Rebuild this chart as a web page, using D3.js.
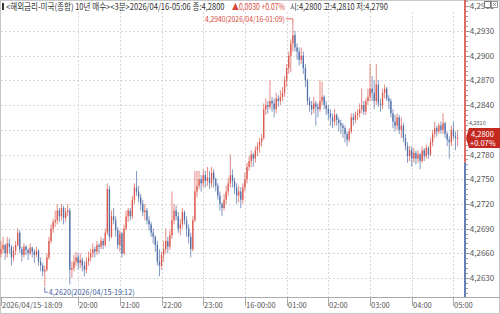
<!DOCTYPE html>
<html><head><meta charset="utf-8">
<script src="https://cdn.jsdelivr.net/npm/d3@7"></script>
<style>
html,body{margin:0;padding:0;background:#fff;}
svg{display:block;}
text{font-family:"Noto Sans CJK KR","Noto Sans",sans-serif;}
</style></head>
<body><svg id="c" width="500" height="314"></svg>
<script>
const openV = [
4.2660,4.2665,4.2670,4.2660,4.2672,4.2668,4.2655,4.2663,4.2670,4.2685,
4.2665,4.2658,4.2668,4.2664,4.2660,4.2667,4.2662,4.2658,4.2663,4.2650,
4.2645,4.2638,4.2640,4.2655,4.2675,4.2690,4.2698,4.2700,4.2712,4.2705,
4.2715,4.2703,4.2710,4.2712,4.2640,4.2642,4.2650,4.2655,4.2648,4.2652,
4.2645,4.2640,4.2650,4.2655,4.2660,4.2665,4.2662,4.2670,4.2668,4.2675,
4.2670,4.2685,4.2738,4.2680,4.2705,4.2700,4.2688,4.2670,4.2684,4.2660,
4.2690,4.2705,4.2712,4.2705,4.2725,4.2740,4.2735,4.2728,4.2720,4.2710,
4.2712,4.2700,4.2695,4.2685,4.2680,4.2670,4.2650,4.2645,4.2658,4.2665,
4.2675,4.2668,4.2682,4.2700,4.2712,4.2705,4.2690,4.2695,4.2710,4.2700,
4.2690,4.2680,4.2665,4.2700,4.2735,4.2742,4.2750,4.2745,4.2755,4.2748,
4.2752,4.2745,4.2758,4.2750,4.2742,4.2730,4.2720,4.2715,4.2725,4.2735,
4.2745,4.2755,4.2748,4.2740,4.2730,4.2735,4.2725,4.2740,4.2750,4.2765,
4.2772,4.2780,4.2775,4.2785,4.2790,4.2795,4.2800,4.2835,4.2840,4.2838,
4.2845,4.2842,4.2835,4.2848,4.2845,4.2850,4.2855,4.2870,4.2885,4.2900,
4.2915,4.2925,4.2910,4.2905,4.2895,4.2900,4.2885,4.2870,4.2845,4.2840,
4.2835,4.2842,4.2838,4.2835,4.2845,4.2850,4.2840,4.2835,4.2830,4.2825,
4.2820,4.2828,4.2822,4.2818,4.2815,4.2812,4.2805,4.2798,4.2808,4.2825,
4.2822,4.2828,4.2830,4.2835,4.2840,4.2832,4.2845,4.2850,4.2860,4.2855,
4.2845,4.2865,4.2842,4.2840,4.2855,4.2860,4.2848,4.2845,4.2830,4.2820,
4.2815,4.2825,4.2810,4.2815,4.2800,4.2790,4.2778,4.2785,4.2775,4.2782,
4.2775,4.2780,4.2772,4.2785,4.2778,4.2788,4.2780,4.2795,4.2805,4.2812,
4.2808,4.2815,4.2810,4.2818,4.2805,4.2798,4.2795,4.2810,4.2802,4.2800];
const highV = [
4.2675,4.2680,4.2672,4.2680,4.2678,4.2670,4.2668,4.2675,4.2690,4.2688,
4.2668,4.2672,4.2670,4.2666,4.2672,4.2668,4.2665,4.2668,4.2665,4.2655,
4.2648,4.2645,4.2660,4.2680,4.2695,4.2702,4.2712,4.2720,4.2715,4.2720,
4.2718,4.2715,4.2720,4.2715,4.2650,4.2658,4.2662,4.2660,4.2660,4.2655,
4.2650,4.2655,4.2662,4.2665,4.2672,4.2668,4.2675,4.2672,4.2680,4.2678,
4.2690,4.2745,4.2742,4.2712,4.2715,4.2705,4.2692,4.2688,4.2686,4.2695,
4.2712,4.2715,4.2715,4.2730,4.2745,4.2760,4.2742,4.2732,4.2725,4.2720,
4.2715,4.2705,4.2698,4.2690,4.2682,4.2675,4.2665,4.2662,4.2675,4.2690,
4.2680,4.2688,4.2735,4.2720,4.2718,4.2710,4.2702,4.2715,4.2712,4.2705,
4.2695,4.2685,4.2705,4.2760,4.2760,4.2760,4.2755,4.2762,4.2760,4.2765,
4.2760,4.2765,4.2762,4.2752,4.2745,4.2735,4.2722,4.2732,4.2742,4.2752,
4.2780,4.2762,4.2752,4.2745,4.2742,4.2740,4.2745,4.2758,4.2770,4.2778,
4.2785,4.2782,4.2790,4.2795,4.2800,4.2805,4.2842,4.2848,4.2845,4.2870,
4.2850,4.2848,4.2855,4.2852,4.2858,4.2862,4.2875,4.2890,4.2905,4.2920,
4.2940,4.2930,4.2915,4.2910,4.2910,4.2905,4.2890,4.2872,4.2850,4.2845,
4.2850,4.2845,4.2842,4.2870,4.2868,4.2852,4.2845,4.2840,4.2835,4.2830,
4.2835,4.2830,4.2825,4.2822,4.2818,4.2815,4.2808,4.2812,4.2830,4.2830,
4.2832,4.2835,4.2842,4.2860,4.2845,4.2848,4.2860,4.2890,4.2875,4.2870,
4.2890,4.2870,4.2848,4.2860,4.2865,4.2862,4.2852,4.2848,4.2835,4.2828,
4.2830,4.2828,4.2825,4.2818,4.2805,4.2795,4.2790,4.2790,4.2788,4.2785,
4.2785,4.2782,4.2790,4.2788,4.2792,4.2790,4.2800,4.2810,4.2820,4.2815,
4.2818,4.2820,4.2830,4.2820,4.2808,4.2802,4.2815,4.2820,4.2808,4.2810];
const lowV = [
4.2655,4.2660,4.2652,4.2655,4.2660,4.2645,4.2650,4.2658,4.2668,4.2660,
4.2650,4.2655,4.2658,4.2652,4.2658,4.2655,4.2648,4.2655,4.2645,4.2638,
4.2632,4.2620,4.2638,4.2652,4.2672,4.2685,4.2692,4.2695,4.2698,4.2700,
4.2695,4.2698,4.2705,4.2622,4.2630,4.2638,4.2645,4.2640,4.2642,4.2638,
4.2632,4.2636,4.2645,4.2650,4.2655,4.2655,4.2658,4.2660,4.2665,4.2665,
4.2668,4.2682,4.2675,4.2678,4.2695,4.2680,4.2665,4.2662,4.2655,4.2658,
4.2688,4.2698,4.2700,4.2702,4.2720,4.2730,4.2722,4.2712,4.2705,4.2700,
4.2695,4.2688,4.2680,4.2672,4.2662,4.2645,4.2632,4.2640,4.2650,4.2660,
4.2660,4.2664,4.2678,4.2695,4.2700,4.2685,4.2682,4.2690,4.2695,4.2680,
4.2672,4.2655,4.2662,4.2698,4.2728,4.2738,4.2735,4.2740,4.2740,4.2742,
4.2738,4.2740,4.2740,4.2735,4.2725,4.2712,4.2705,4.2712,4.2720,4.2730,
4.2740,4.2740,4.2732,4.2720,4.2722,4.2715,4.2720,4.2735,4.2745,4.2760,
4.2765,4.2765,4.2770,4.2778,4.2782,4.2790,4.2798,4.2828,4.2830,4.2835,
4.2832,4.2825,4.2830,4.2838,4.2840,4.2845,4.2850,4.2862,4.2878,4.2880,
4.2905,4.2905,4.2895,4.2888,4.2890,4.2878,4.2862,4.2840,4.2832,4.2828,
4.2830,4.2815,4.2825,4.2832,4.2840,4.2835,4.2828,4.2822,4.2815,4.2812,
4.2815,4.2815,4.2808,4.2805,4.2800,4.2795,4.2790,4.2795,4.2805,4.2815,
4.2818,4.2822,4.2825,4.2830,4.2828,4.2828,4.2840,4.2845,4.2845,4.2835,
4.2840,4.2838,4.2832,4.2835,4.2848,4.2845,4.2835,4.2825,4.2812,4.2808,
4.2810,4.2805,4.2800,4.2795,4.2785,4.2770,4.2772,4.2765,4.2770,4.2768,
4.2770,4.2762,4.2770,4.2772,4.2775,4.2775,4.2778,4.2790,4.2800,4.2802,
4.2805,4.2805,4.2805,4.2800,4.2790,4.2775,4.2790,4.2798,4.2785,4.2790];
const closeV = [
4.2665,4.2670,4.2660,4.2672,4.2668,4.2655,4.2663,4.2670,4.2685,4.2665,
4.2658,4.2668,4.2664,4.2660,4.2667,4.2662,4.2658,4.2663,4.2650,4.2645,
4.2638,4.2640,4.2655,4.2675,4.2690,4.2698,4.2700,4.2712,4.2705,4.2715,
4.2703,4.2710,4.2712,4.2640,4.2642,4.2650,4.2655,4.2648,4.2652,4.2645,
4.2640,4.2650,4.2655,4.2660,4.2665,4.2662,4.2670,4.2668,4.2675,4.2670,
4.2685,4.2738,4.2680,4.2705,4.2700,4.2688,4.2670,4.2684,4.2660,4.2690,
4.2705,4.2712,4.2705,4.2725,4.2740,4.2735,4.2728,4.2720,4.2710,4.2712,
4.2700,4.2695,4.2685,4.2680,4.2670,4.2650,4.2645,4.2658,4.2665,4.2675,
4.2668,4.2682,4.2700,4.2712,4.2705,4.2690,4.2695,4.2710,4.2700,4.2690,
4.2680,4.2665,4.2700,4.2735,4.2742,4.2750,4.2745,4.2755,4.2748,4.2752,
4.2745,4.2758,4.2750,4.2742,4.2730,4.2720,4.2715,4.2725,4.2735,4.2745,
4.2755,4.2748,4.2740,4.2730,4.2735,4.2725,4.2740,4.2750,4.2765,4.2772,
4.2780,4.2775,4.2785,4.2790,4.2795,4.2800,4.2835,4.2840,4.2838,4.2845,
4.2842,4.2835,4.2848,4.2845,4.2850,4.2855,4.2870,4.2885,4.2900,4.2915,
4.2925,4.2910,4.2905,4.2895,4.2900,4.2885,4.2870,4.2845,4.2840,4.2835,
4.2842,4.2838,4.2835,4.2845,4.2850,4.2840,4.2835,4.2830,4.2825,4.2820,
4.2828,4.2822,4.2818,4.2815,4.2812,4.2805,4.2798,4.2808,4.2825,4.2822,
4.2828,4.2830,4.2835,4.2840,4.2832,4.2845,4.2850,4.2860,4.2855,4.2845,
4.2865,4.2842,4.2840,4.2855,4.2860,4.2848,4.2845,4.2830,4.2820,4.2815,
4.2825,4.2810,4.2815,4.2800,4.2790,4.2778,4.2785,4.2775,4.2782,4.2775,
4.2780,4.2772,4.2785,4.2778,4.2788,4.2780,4.2795,4.2805,4.2812,4.2808,
4.2815,4.2810,4.2818,4.2805,4.2798,4.2795,4.2810,4.2802,4.2800,4.2800];

const yTicks = [4.2630,4.2660,4.2690,4.2720,4.2750,4.2780,4.2810,4.2840,4.2870,4.2900,4.2930];
const yTopLabel = 4.2965;
const xTickBars = [0,37,57,77,97,117,137,157,177,197,217];
const xTickLabels = ["2026/04/15-18:09","20:00","21:00","22:00","23:00","16-00:00","01:00","02:00","03:00","04:00","05:00"];
const prevClose = 4.2770;
const lastPrice = 4.2800;
const maxInfo = {bar:140, value:4.2940, label:"4,2940(2026/04/16-01:09)"};
const minInfo = {bar:21, value:4.2620, label:"4,2620(2026/04/15-19:12)"};
const headerMain = "<해외금리-미국(종합) 10년 매수><3분>2026/04/16-05:06 종:4,2800";
const headerChg = "▲0,0030 +0.07%";
const headerOHL = "시:4,2800 고:4,2810 저:4,2790";

const RED = "#d9473c", BLUE = "#3f61a0";
const svg = d3.select("#c");
const plotR = 465, plotB = 297;
const x = d3.scaleLinear().domain([0, 219]).range([1, 457.6]);
const y = d3.scaleLinear().domain([4.2630, 4.2930]).range([278, 31]);
const fmt = v => d3.format(".4f")(v).replace(".", ",");

// text fitted to a width by a horizontal scale (keeps its real box)
function fitText(parent, str, x0, y0, w, size, fill, anchor){
  const gg = parent.append("g");
  const t = gg.append("text").attr("font-size",size).attr("fill",fill).text(str);
  const nat = t.node().getComputedTextLength();
  const s = Math.min(1, w / nat);
  const left = anchor === "end" ? x0 - nat*s : x0;
  gg.attr("transform",`translate(${left},${y0}) scale(${s},1)`);
  return t;
}

// frame
svg.append("rect").attr("x",0.5).attr("y",0.5).attr("width",499).attr("height",313)
  .attr("fill","none").attr("stroke","#c8c8c8");

// grid horizontal
svg.append("g").selectAll("line").data(yTicks).join("line")
  .attr("x1",1).attr("x2",plotR).attr("y1",d=>Math.round(y(d))+0.5).attr("y2",d=>Math.round(y(d))+0.5)
  .attr("stroke","#d8d8d8").attr("stroke-dasharray","2,2");
// grid vertical
svg.append("g").selectAll("line").data(xTickBars.slice(1)).join("line")
  .attr("x1",d=>Math.round(x(d))+0.5).attr("x2",d=>Math.round(x(d))+0.5).attr("y1",12).attr("y2",plotB)
  .attr("stroke","#d8d8d8").attr("stroke-dasharray","2,2");

// candles
const idx = d3.range(closeV.length);
const g = svg.append("g").attr("opacity",0.9);
g.selectAll("line").data(idx).join("line")
  .attr("x1",i=>x(i)).attr("x2",i=>x(i))
  .attr("y1",i=>y(Math.max(highV[i],openV[i],closeV[i])))
  .attr("y2",i=>y(Math.min(lowV[i],openV[i],closeV[i])))
  .attr("stroke",i=>closeV[i]>=openV[i]?RED:BLUE).attr("stroke-width",0.7);
g.selectAll("rect").data(idx).join("rect")
  .attr("x",i=>x(i)-0.65).attr("width",1.3)
  .attr("y",i=>y(Math.max(openV[i],closeV[i])))
  .attr("height",i=>Math.max(1,Math.abs(y(openV[i])-y(closeV[i]))))
  .attr("fill",i=>closeV[i]>=openV[i]?RED:BLUE);

// max annotation
const mx = x(maxInfo.bar), my = y(maxInfo.value);
svg.append("path").attr("d",`M${mx-7},${my-4}H${mx}V${my}`).attr("fill","none").attr("stroke",RED).attr("stroke-width",0.8);
fitText(svg, maxInfo.label, mx-8, my-1, 80, 8, RED, "end");
// min annotation
const nx = x(minInfo.bar), ny = y(minInfo.value);
svg.append("path").attr("d",`M${nx},${ny+1}V${ny+6}H${nx+3}`).attr("fill","none").attr("stroke",BLUE).attr("stroke-width",0.8);
fitText(svg, minInfo.label, nx+4, ny+9, 86, 8, BLUE);

// right axis line split at previous close
svg.append("line").attr("x1",plotR).attr("x2",plotR).attr("y1",0).attr("y2",y(prevClose)).attr("stroke",RED).attr("stroke-width",1.6);
svg.append("line").attr("x1",plotR).attr("x2",plotR).attr("y1",y(prevClose)).attr("y2",plotB).attr("stroke",BLUE).attr("stroke-width",1.6);
// minor ticks
const minor = d3.range(4.2612, 4.2966, 0.0006);
svg.append("g").selectAll("line").data(minor).join("line")
  .attr("x1",plotR+1).attr("x2",plotR+3).attr("y1",d=>Math.round(y(d))+0.5).attr("y2",d=>Math.round(y(d))+0.5)
  .attr("stroke","#888").attr("stroke-width",0.8);
// y labels
const cy = y(lastPrice);
const yl = svg.append("g");
yTicks.filter(d=>Math.abs(y(d)-cy)>12).forEach(d=>fitText(yl, "-"+fmt(d), plotR+2, y(d)+3, 31, 8, "#555"));
fitText(yl, "-"+fmt(yTopLabel), plotR+2, 9, 31, 8, "#555");
// label squeezed just above the price box
fitText(yl, "-"+fmt(4.2810), plotR+2, cy-12.6, 31, 5.5, "#555");

// window buttons
svg.append("rect").attr("x",484.5).attr("y",1.5).attr("width",6).attr("height",6).attr("fill","#fff").attr("stroke","#777");
svg.append("rect").attr("x",491.5).attr("y",1.5).attr("width",6).attr("height",6).attr("fill","#fff").attr("stroke","#999");
svg.append("path").attr("d","M493,3L496,6M496,3L493,6").attr("stroke","#777").attr("stroke-width",0.8);

// current price box
svg.append("path").attr("d",`M${plotR+1},${cy}L${plotR+4},${cy-10}H500V${cy+10}H${plotR+4}Z`).attr("fill","#c4291f");
fitText(svg, fmt(lastPrice), 471, cy-1.5, 25, 7.5, "#fff");
fitText(svg, "+0.07%", 470, cy+8, 27, 7.5, "#fff");

// x axis
svg.append("line").attr("x1",0).attr("x2",500).attr("y1",plotB+0.5).attr("y2",plotB+0.5).attr("stroke","#aaa");
const xl = svg.append("g");
xTickBars.forEach((b,k)=>{
  const px = Math.round(x(b))+0.5;
  xl.append("line").attr("x1",px).attr("x2",px).attr("y1",plotB).attr("y2",306).attr("stroke","#aaa");
  fitText(xl, xTickLabels[k], px+0.5, 308, k===0?73:(k===5?33:20), 7.5, "#555");
});

// header
svg.append("rect").attr("x",2).attr("y",3).attr("width",2).attr("height",7).attr("fill","#333");
fitText(svg, headerMain, 6, 10, 219, 9, "#333");
fitText(svg, headerChg, 232, 10, 53, 9, RED);
fitText(svg, headerOHL, 290, 10, 98, 9, "#333");
</script></body></html>
